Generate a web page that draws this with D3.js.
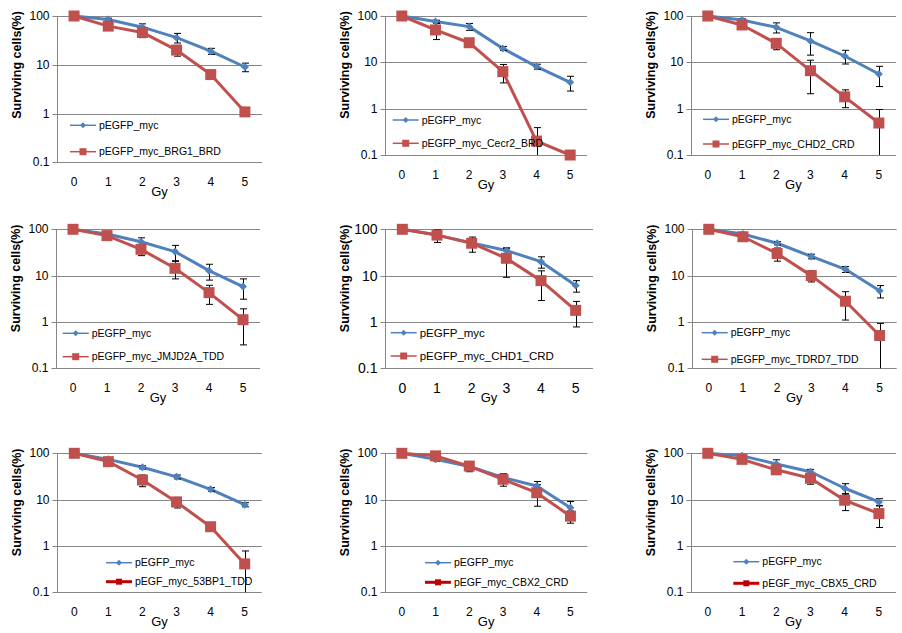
<!DOCTYPE html>
<html>
<head>
<meta charset="utf-8">
<script src="https://cdn.jsdelivr.net/npm/d3@7"></script>
<style>
  html, body { margin: 0; padding: 0; background: #fff; }
  svg { display: block; }
  text { font-family: "Liberation Sans", Arial, sans-serif; fill: #000; }
</style>
</head>
<body>
<svg id="chart" width="902" height="633"></svg>
<script>
// ---------------- DATA ----------------
const doses = [0, 1, 2, 3, 4, 5];
const yTicks = [0.1, 1, 10, 100];
const yTickLabels = ["0.1", "1", "10", "100"];
const xTitle = "Gy";
const yTitle = "Surviving cells(%)";
const controlLabel = "pEGFP_myc";
const variantLabels = [
  "pEGFP_myc_BRG1_BRD", "pEGFP_myc_Cecr2_BRD", "pEGFP_myc_CHD2_CRD",
  "pEGFP_myc_JMJD2A_TDD", "pEGFP_myc_CHD1_CRD", "pEGFP_myc_TDRD7_TDD",
  "pEGF_myc_53BP1_TDD", "pEGF_myc_CBX2_CRD", "pEGF_myc_CBX5_CRD"
];
const controlValues = [
  [100, 85, 59, 36, 19, 9],
  [100, 76, 59, 20, 8.1, 3.7],
  [100, 82, 57, 29, 13.7, 5.6],
  [100, 79, 54, 33, 12.8, 5.8],
  [100, 75, 51, 35, 20, 6.1],
  [100, 79, 50, 26, 13.7, 4.7],
  [100, 74, 50, 31, 16.7, 7.8],
  [100, 74, 52, 30, 19.7, 6.7],
  [100, 88, 59, 40, 17.6, 8.9]
];
const controlErrors = [
  [0, 5, 10, 8, 2.7, 1.8],
  [0, 5, 10, 2, 1, 1.3],
  [0, 5, 14, 14.7, 4.5, 2.6],
  [0, 4, 11.5, 12, 4.8, 2.7],
  [0, 5, 5, 5, 5.5, 1.7],
  [0, 5, 4, 3, 2, 1.4],
  [0, 4, 4, 3, 1.5, 0.8],
  [0, 6, 6, 6, 5, 2.4],
  [0, 5, 13.5, 5, 4.5, 1.6]
];
const variantValues = [
  [100, 62, 46, 20, 6.3, 1.08],
  [100, 50, 26.5, 6.3, 0.2, 0.1],
  [100, 64, 25.7, 6.6, 1.8, 0.49],
  [100, 73, 37, 14.4, 4.3, 1.12],
  [100, 75, 50, 23.7, 7.8, 1.78],
  [100, 69, 30, 10, 2.8, 0.51],
  [100, 66, 26.5, 8.9, 2.6, 0.41],
  [100, 88, 53, 27.5, 14.1, 4.4],
  [100, 74, 44, 29, 9.7, 5]
];
const variantErrors = [
  [0, 4, 10, 5, 0.8, 0.1],
  [0, 19, 3, 2.7, 0.19, 0],
  [0, 5, 7, 4.5, 0.75, 0.47],
  [0, 4, 10, 5.9, 1.9, 0.8],
  [0, 23, 18, 14.5, 4.9, 1],
  [0, 4, 9.5, 2.7, 1.7, 0.42],
  [0, 5, 7.5, 2.3, 0.3, 0.37],
  [0, 8, 13, 8, 6.9, 1.3],
  [0, 5, 5, 7.5, 3.9, 2.5]
];

// ---------------- LAYOUT (plot areas, legend anchors) ----------------
const panels = [
  {L: 57,    R: 262,   T: 16,    B: 162.3, lx: 70,    ly1: 125.3, ly2: 151.7, big: false, style2: false},
  {L: 385,   R: 587,   T: 16,    B: 155,   lx: 392.7, ly1: 120,   ly2: 143.3, big: false, style2: false},
  {L: 690.7, R: 896,   T: 16,    B: 155,   lx: 703,   ly1: 119.3, ly2: 144,   big: false, style2: false},
  {L: 56,    R: 260,   T: 229.3, B: 368.3, lx: 62.7,  ly1: 333.3, ly2: 356.7, big: false, style2: false},
  {L: 385,   R: 593,   T: 229.3, B: 368.3, lx: 390.7, ly1: 332.7, ly2: 356,   big: true,  style2: false},
  {L: 691.7, R: 896.7, T: 229.3, B: 368.3, lx: 701.7, ly1: 332.7, ly2: 359.3, big: false, style2: false},
  {L: 57.3,  R: 261.7, T: 453.3, B: 592.3, lx: 106,   ly1: 562.7, ly2: 581.7, big: false, style2: true},
  {L: 385,   R: 587.3, T: 453.3, B: 592.3, lx: 425,   ly1: 562.7, ly2: 582.3, big: false, style2: true},
  {L: 690.7, R: 896,   T: 453.3, B: 592.3, lx: 733.3, ly1: 561.7, ly2: 583.3, big: false, style2: true}
];

const BLUE = "#4F81BD", RED = "#C0504D", DARKRED = "#C00000", GRID = "#868686";

const svg = d3.select("#chart");

const diamond = (s) => `M0,${-s}L${s},0L0,${s}L${-s},0Z`;

panels.forEach((p, i) => {
  const g = svg.append("g");
  const x = d3.scaleBand().domain(doses).range([p.L, p.R]);
  const y = d3.scaleLog().domain([0.1, 100]).range([p.B, p.T]);
  const cx = d => x(d) + x.bandwidth() / 2;
  const tickFont = p.big ? 14 : 12;

  // gridlines
  g.append("g").selectAll("line").data(yTicks).join("line")
    .attr("x1", p.L).attr("x2", p.R)
    .attr("y1", d => Math.round(y(d)) + 0.5).attr("y2", d => Math.round(y(d)) + 0.5)
    .attr("stroke", GRID).attr("stroke-width", 1);

  // y axis
  const yAxis = d3.axisLeft(y).tickValues(yTicks)
    .tickFormat((d, k) => yTickLabels[k]).tickSize(5).tickPadding(3);
  const ya = g.append("g").attr("transform", `translate(${Math.round(p.L) + 0.5},0)`).call(yAxis);
  ya.select(".domain").attr("stroke", GRID).attr("d", `M-0,${p.T}V${Math.round(p.B) + 0.5}`);
  ya.selectAll(".tick line").attr("stroke", GRID);
  ya.selectAll(".tick").attr("transform", d => `translate(0,${Math.round(y(d)) + 0.5})`);
  ya.selectAll(".tick text").attr("font-size", tickFont).attr("font-family", "Liberation Sans, Arial, sans-serif").attr("fill", "#000");

  // x axis labels
  const xAxis = d3.axisBottom(x).tickSize(0).tickPadding(0);
  const xa = g.append("g").attr("transform", `translate(0,${p.B + 15})`).call(xAxis);
  xa.select(".domain").remove();
  xa.selectAll(".tick text").attr("font-size", tickFont).attr("font-family", "Liberation Sans, Arial, sans-serif").attr("fill", "#000");

  // axis titles
  g.append("text").attr("x", (p.L + p.R) / 2).attr("y", p.B + 34)
    .attr("text-anchor", "middle").attr("font-size", 13).text(xTitle);
  g.append("text")
    .attr("transform", `translate(${p.L - 36},${p.T + 49}) rotate(-90)`)
    .attr("text-anchor", "middle").attr("font-weight", "bold").attr("font-size", 12.5)
    .text(yTitle);

  const cv = controlValues[i], ce = controlErrors[i];
  const vv = variantValues[i], ve = variantErrors[i];
  const line = d3.line().x((d, k) => cx(doses[k])).y(d => y(d));

  // series lines
  g.append("path").attr("d", line(cv)).attr("fill", "none")
    .attr("stroke", BLUE).attr("stroke-width", 3).attr("stroke-linejoin", "round");
  g.append("path").attr("d", line(vv)).attr("fill", "none")
    .attr("stroke", RED).attr("stroke-width", 3).attr("stroke-linejoin", "round");

  // error bars
  const errData = [];
  cv.forEach((v, k) => { if (ce[k] > 0) errData.push({k, v, e: ce[k]}); });
  vv.forEach((v, k) => { if (ve[k] > 0) errData.push({k, v, e: ve[k]}); });
  const eg = g.append("g").attr("stroke", "#000").attr("stroke-width", 1);
  errData.forEach(d => {
    const px = Math.round(cx(doses[d.k])) + 0.5;
    const lo = Math.max(0.1, d.v - d.e), hi = Math.min(100, d.v + d.e);
    const y1 = y(hi), y2 = y(lo);
    eg.append("line").attr("x1", px).attr("x2", px).attr("y1", y1).attr("y2", y2);
    eg.append("line").attr("x1", px - 3.5).attr("x2", px + 3.5).attr("y1", y1).attr("y2", y1);
    if (lo > 0.1) eg.append("line").attr("x1", px - 3.5).attr("x2", px + 3.5).attr("y1", y2).attr("y2", y2);
  });

  // markers
  g.append("g").selectAll("path").data(cv).join("path")
    .attr("transform", (d, k) => `translate(${cx(doses[k])},${y(d)})`)
    .attr("d", diamond(4)).attr("fill", BLUE);
  g.append("g").selectAll("rect").data(vv).join("rect")
    .attr("x", (d, k) => cx(doses[k]) - 5.5).attr("y", d => y(d) - 5.5)
    .attr("width", 11).attr("height", 11).attr("fill", RED);

  // legend
  const lg = g.append("g");
  const lw = 26, legFont = p.big ? 11.5 : 10.5;
  lg.append("line").attr("x1", p.lx).attr("x2", p.lx + lw).attr("y1", p.ly1).attr("y2", p.ly1)
    .attr("stroke", BLUE).attr("stroke-width", 1.5);
  lg.append("path").attr("transform", `translate(${p.lx + lw / 2},${p.ly1})`).attr("d", diamond(3)).attr("fill", BLUE);
  lg.append("text").attr("x", p.lx + lw + 3).attr("y", p.ly1).attr("dy", "0.35em")
    .attr("font-size", legFont).text(controlLabel);
  const redCol = p.style2 ? DARKRED : RED;
  const sq = p.style2 ? 6 : 7;
  lg.append("line").attr("x1", p.lx).attr("x2", p.lx + lw).attr("y1", p.ly2).attr("y2", p.ly2)
    .attr("stroke", redCol).attr("stroke-width", p.style2 ? 3 : 1.5);
  lg.append("rect").attr("x", p.lx + lw / 2 - sq / 2).attr("y", p.ly2 - sq / 2)
    .attr("width", sq).attr("height", sq).attr("fill", redCol);
  lg.append("text").attr("x", p.lx + lw + 3).attr("y", p.ly2).attr("dy", "0.35em")
    .attr("font-size", legFont).text(variantLabels[i]);
});
</script>
</body>
</html>
